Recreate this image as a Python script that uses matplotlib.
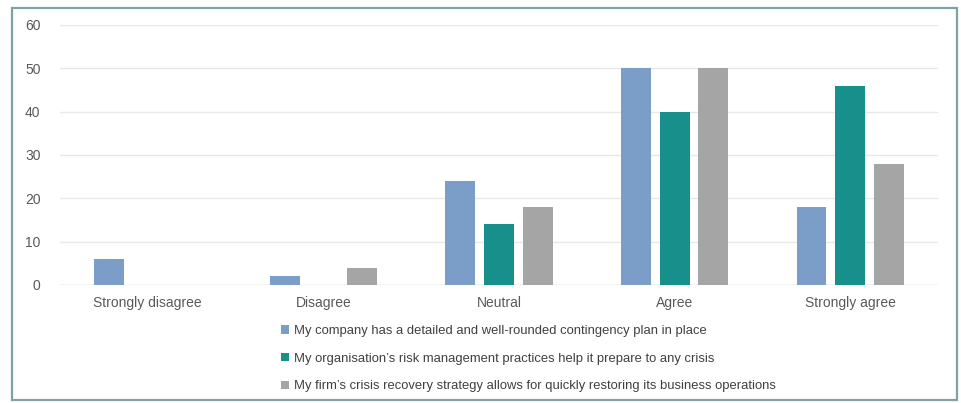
import matplotlib
matplotlib.use("Agg")
import matplotlib.pyplot as plt
import numpy as np
from matplotlib.patches import Rectangle

plt.rcParams['font.family'] = ['Liberation Sans', 'DejaVu Sans']

# survey answers
categories = ["Strongly disagree", "Disagree", "Neutral", "Agree", "Strongly agree"]
plan_in_place = [6, 2, 24, 50, 18]
risk_practices = [0, 0, 14, 40, 46]
recovery_strategy = [0, 4, 18, 50, 28]
series_labels = [
    "My company has a detailed and well-rounded contingency plan in place",
    "My organisation\u2019s risk management practices help it prepare to any crisis",
    "My firm\u2019s crisis recovery strategy allows for quickly restoring its business operations",
]
colors = ["#7b9ec8", "#178f8b", "#a5a5a5"]

fig = plt.figure(figsize=(9.61, 4.03), dpi=100)
ax = fig.add_axes([60 / 961, 118 / 403, 878 / 961, 260 / 403])

x = np.arange(len(categories))
width = 0.17
offset = 0.22
for i, (vals, lab, col) in enumerate(zip([plan_in_place, risk_practices, recovery_strategy], series_labels, colors)):
    ax.bar(x + (i - 1) * offset, vals, width, color=col, label=lab, zorder=3)

ax.set_xlim(-0.5, len(categories) - 0.5)
ax.set_ylim(0, 60)
ax.set_yticks(range(0, 61, 10))
ax.set_xticks(x)
ax.set_xticklabels(categories)
ax.yaxis.grid(True, color="#e8e8e8", linewidth=1, zorder=0)
ax.axhline(0, color="#d9d9d9", linewidth=1, zorder=2)
for s in ax.spines.values():
    s.set_visible(False)
ax.tick_params(axis="both", length=0, labelsize=10, labelcolor="#595959")
ax.tick_params(axis="y", pad=14)
ax.tick_params(axis="x", pad=8)

handles, labels = ax.get_legend_handles_labels()
fig.legend(handles, labels, loc="upper left", bbox_to_anchor=(281 / 961, 1 - 325 / 403),
           frameon=False, fontsize=9.4, labelcolor="#404040", handlelength=0.6, handleheight=0.6,
           handletextpad=0.4, labelspacing=1.2, borderaxespad=0, borderpad=0)

# outer border of the chart
fig.patches.append(Rectangle((12 / 961, 3 / 403), 945 / 961, 392 / 403, transform=fig.transFigure,
                             fill=False, edgecolor="#7fa3a0", linewidth=1.6))

fig.savefig("out.png", dpi=100)
